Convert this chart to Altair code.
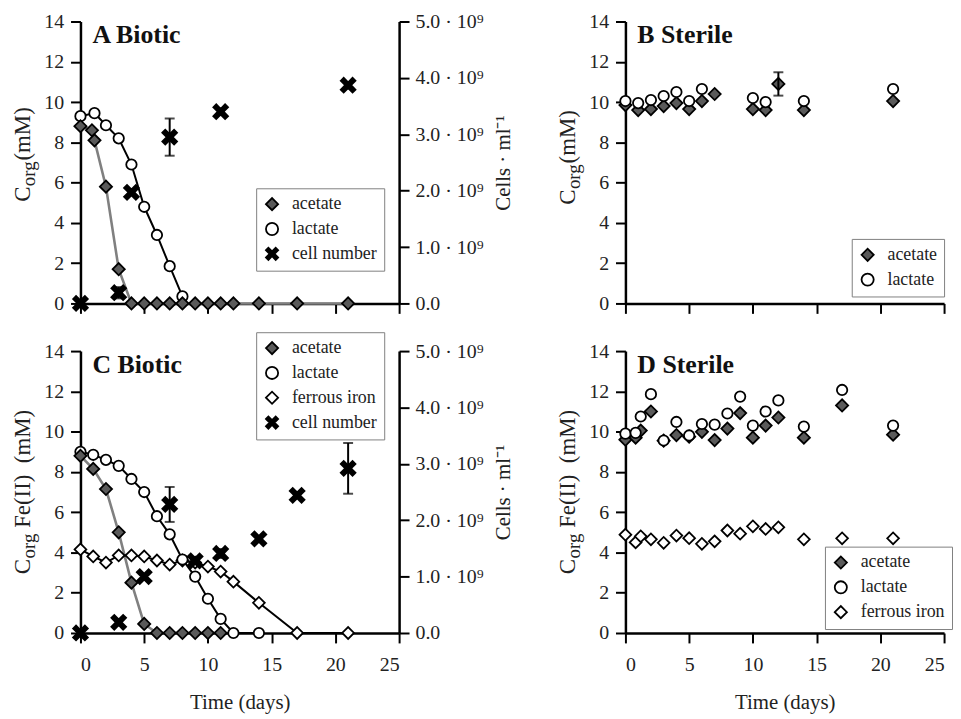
import altair as alt
import pandas as pd

FONT = "Liberation Serif"

# ---------------- data ----------------
# Panel A  (biotic, C_org)
A_ace_days = [0, 0.9, 1.1, 2, 3, 4, 5, 6, 7, 8, 9, 10, 11, 12, 14, 17, 21]
A_ace = [8.8, 8.6, 8.1, 5.8, 1.7, 0, 0, 0, 0, 0, 0, 0, 0, 0, 0, 0, 0]
A_lac_days = [0, 1.1, 2, 3, 4, 5, 6, 7, 8]
A_lac = [9.3, 9.45, 8.85, 8.2, 6.9, 4.8, 3.4, 1.85, 0.35]
A_cell_days = [0, 3, 4, 7, 11, 21]
A_cell = [0, 0.19, 1.97, 2.95, 3.4, 3.87]          # x 10^9 cells/ml
A_cell_err = [0, 0.1, 0, 0.33, 0, 0]

# Panel B  (sterile, C_org)
B_ace_days = [0, 1, 2, 3, 4, 5, 6, 7, 10, 11, 12, 14, 21]
B_ace = [9.85, 9.6, 9.65, 9.8, 9.95, 9.65, 10.05, 10.4, 9.65, 9.6, 10.9, 9.6, 10.05]
B_ace_err = [0, 0, 0, 0, 0, 0, 0, 0, 0, 0, 0.58, 0, 0]
B_lac_days = [0, 1, 2, 3, 4, 5, 6, 10, 11, 14, 21]
B_lac = [10.05, 9.95, 10.1, 10.3, 10.5, 10.05, 10.65, 10.2, 10.0, 10.05, 10.65]

# Panel C  (biotic, C_org and Fe(II))
C_ace_days = [0, 1, 2, 3, 4, 5, 6, 7, 8, 9, 10, 11]
C_ace = [8.8, 8.15, 7.15, 5.0, 2.5, 0.45, 0, 0, 0, 0, 0, 0]
C_lac_days = [0, 1, 2, 3, 4, 5, 6, 7, 8, 9, 10, 11, 12, 14]
C_lac = [9.0, 8.85, 8.6, 8.3, 7.65, 7.0, 5.8, 4.9, 3.65, 2.8, 1.7, 0.7, 0, 0]
C_fe_days = [0, 1, 2, 3, 4, 5, 6, 7, 8, 9, 10, 11, 12, 14, 17, 21]
C_fe = [4.15, 3.8, 3.5, 3.85, 3.85, 3.8, 3.6, 3.4, 3.6, 3.5, 3.3, 3.05, 2.55, 1.5, 0, 0]
C_cell_days = [0, 3, 5, 7, 9, 11, 14, 17, 21]
C_cell = [0, 0.19, 1.0, 2.28, 1.28, 1.41, 1.67, 2.44, 2.92]
C_cell_err = [0, 0, 0, 0.31, 0, 0.08, 0, 0, 0.45]

# Panel D  (sterile, C_org and Fe(II))
D_days = [0, 0.8, 1.2, 2, 3, 4, 5, 6, 7, 8, 9, 10, 11, 12, 14, 17, 21]
D_ace = [9.6, 9.7, 10.05, 11.0, 9.55, 9.83, 9.75, 9.99, 9.58, 10.15, 10.92, 9.7, 10.3, 10.7, 9.7, 11.3, 9.85]
D_lac = [9.9, 9.94, 10.75, 11.86, 9.56, 10.48, 9.81, 10.38, 10.35, 10.9, 11.74, 10.3, 11.0, 11.55, 10.25, 12.07, 10.3]
D_fe = [4.88, 4.5, 4.8, 4.65, 4.48, 4.84, 4.71, 4.43, 4.55, 5.09, 4.93, 5.3, 5.17, 5.25, 4.65, 4.7, 4.7]

X_TICKS = [0, 5, 10, 15, 20, 25]
Y_TICKS = [0, 2, 4, 6, 8, 10, 12, 14]
CELL_TICKS = [0, 1, 2, 3, 4, 5]

# ---------------- styling ----------------
XPATH = "M-1,-0.6L-0.6,-1L0,-0.4L0.6,-1L1,-0.6L0.4,0L1,0.6L0.6,1L0,0.4L-0.6,1L-1,0.6L-0.4,0Z"
SHAPES = {"acetate": "diamond", "lactate": "circle", "ferrous iron": "diamond", "cell number": XPATH}
FILLS = {"acetate": "#5a5a5a", "lactate": "white", "ferrous iron": "white", "cell number": "black"}
SIZES = {"acetate": 150, "lactate": 110, "ferrous iron": 140, "cell number": 220}

W, H = 321, 284
TXT = "#222222"

TW = {"C": .667, "o": .5, "r": .333, "g": .5, "(": .333, ")": .333, "m": .778, "M": .889,
      "F": .556, "e": .444, "I": .333, " ": .25, "\u00a0": .25}


def tw(s, fs):
    return sum(TW.get(c, 0.5) for c in s) * fs


def frame(days, vals, name):
    return pd.DataFrame({"day": days, "value": vals, "series": name})


AX = dict(labelFont=FONT, labelFontSize=20, labelColor=TXT, titleFont=FONT, titleFontSize=21,
          titleFontWeight="normal", titleColor=TXT)


def xenc(bottom):
    if bottom:
        ax = alt.Axis(values=X_TICKS, title="Time (days)", titlePadding=17, labelPadding=12, **AX)
    else:
        ax = alt.Axis(values=X_TICKS, labels=False, title=None)
    return alt.X("day:Q", scale=alt.Scale(domain=[0, 25], nice=False, zero=False), axis=ax)


def yleft(field="value"):
    return alt.Y(f"{field}:Q", scale=alt.Scale(domain=[0, 14], nice=False),
                 axis=alt.Axis(values=Y_TICKS, title=None, labelPadding=7, **AX))


def yright(field="value"):
    return alt.Y(f"{field}:Q", scale=alt.Scale(domain=[0, 5], nice=False),
                 axis=alt.Axis(orient="right", values=CELL_TICKS,
                               labelExpr="datum.value == 0 ? '0.0' : format(datum.value, '.1f') + ' · 10⁹'",
                               title="Cells · ml⁻¹", titleAngle=270, titleBaseline="top",
                               titlePadding=10, labelPadding=6, **AX))


def legend_def(lx, ly):
    return alt.Legend(orient="none", legendX=lx, legendY=ly, title=None,
                      strokeColor="#808080", fillColor="white", padding=7,
                      labelFont=FONT, labelFontSize=18, labelColor=TXT,
                      symbolSize=150, symbolStrokeWidth=1.8,
                      rowPadding=5, labelOffset=11)


def points(days, vals, name, domain, yfun, leg, bottom):
    return alt.Chart(frame(days, vals, name)).mark_point(
        filled=True, strokeWidth=1.8, opacity=1, size=SIZES[name]
    ).encode(
        x=xenc(bottom), y=yfun("value"),
        shape=alt.Shape("series:N", scale=alt.Scale(domain=domain, range=[SHAPES[s] for s in domain]), legend=leg),
        fill=alt.Fill("series:N", scale=alt.Scale(domain=domain, range=[FILLS[s] for s in domain]), legend=leg),
        stroke=alt.Stroke("series:N", scale=alt.Scale(domain=domain, range=["black"] * len(domain)), legend=leg),
    )


def line(days, vals, color, width, bottom):
    return alt.Chart(frame(days, vals, "l")).mark_line(color=color, strokeWidth=width).encode(
        x=xenc(bottom), y=yleft("value"))


def errbars(days, vals, errs, yfun, bottom):
    rows = [(d, v - e, v + e) for d, v, e in zip(days, vals, errs) if e > 0]
    df = pd.DataFrame(rows, columns=["day", "lo", "hi"])
    rule = alt.Chart(df).mark_rule(color="black", strokeWidth=2).encode(
        x=xenc(bottom), y=yfun("lo"), y2="hi:Q")
    lo = alt.Chart(df).mark_tick(orient="horizontal", color="black", size=10, thickness=2).encode(
        x=xenc(bottom), y=yfun("lo"))
    hi = alt.Chart(df).mark_tick(orient="horizontal", color="black", size=10, thickness=2).encode(
        x=xenc(bottom), y=yfun("hi"))
    return [rule, lo, hi]


def ptitle(t):
    return alt.Chart(pd.DataFrame({"t": [t]})).mark_text(
        align="left", baseline="alphabetic", font=FONT, fontSize=26, fontWeight="bold", color="#111111"
    ).encode(x=alt.value(12), y=alt.value(22), text="t:N")


def ytitle(rest, center):
    FS, FSS = 23, 19
    wC = tw("C", FS)
    wo = tw("org", FSS)
    wr = tw(rest, FS)
    gap = 6 if rest.startswith("Fe") else 1
    total = wC + wo + gap + wr
    y0 = center + total / 2
    one = pd.DataFrame({"k": [0]})
    common = dict(angle=270, align="left", baseline="middle", font=FONT, color=TXT)
    pos = dict(x=alt.value(-58), y=alt.value(y0))
    return [
        alt.Chart(one).mark_text(text="C", fontSize=FS, **common).encode(**pos),
        alt.Chart(one).mark_text(text="org", fontSize=FSS, dx=wC + 0.5, dy=6, **common).encode(**pos),
        alt.Chart(one).mark_text(text=rest, fontSize=FS, dx=wC + wo + gap, **common).encode(**pos),
    ]


# ---------------- Panel A ----------------
domA = ["acetate", "lactate", "cell number"]
legA = legend_def(177, 168)
leftA = alt.layer(
    line(A_ace_days, A_ace, "#808080", 2.6, False),
    line(A_lac_days, A_lac, "black", 2, False),
    points(A_lac_days, A_lac, "lactate", domA, yleft, legA, False),
    points(A_ace_days, A_ace, "acetate", domA, yleft, legA, False),
    ptitle("A Biotic"),
    *ytitle("(mM)", 134),
)
rightA = alt.layer(
    *errbars(A_cell_days, A_cell, A_cell_err, yright, False),
    points(A_cell_days, A_cell, "cell number", domA, yright, legA, False),
)
panelA = alt.layer(leftA, rightA).resolve_scale(y="independent").properties(width=W, height=H)

# ---------------- Panel B ----------------
domB = ["acetate", "lactate"]
legB = legend_def(228, 219)
panelB = alt.layer(
    points(B_ace_days, B_ace, "acetate", domB, yleft, legB, False),
    points(B_lac_days, B_lac, "lactate", domB, yleft, legB, False),
    *errbars(B_ace_days, B_ace, B_ace_err, yleft, False),
    ptitle("B Sterile"),
    *ytitle("(mM)", 137),
).properties(width=W, height=H)

# ---------------- Panel C ----------------
domC = ["acetate", "lactate", "ferrous iron", "cell number"]
legC = legend_def(177, -19)
leftC = alt.layer(
    line(C_ace_days, C_ace, "#808080", 2.6, True),
    line(C_lac_days, C_lac, "black", 2, True),
    line(C_fe_days, C_fe, "black", 2, True),
    points(C_fe_days, C_fe, "ferrous iron", domC, yleft, legC, True),
    points(C_lac_days, C_lac, "lactate", domC, yleft, legC, True),
    points(C_ace_days, C_ace, "acetate", domC, yleft, legC, True),
    ptitle("C Biotic"),
    *ytitle("Fe(II)\u00a0\u00a0(mM)", 142),
)
rightC = alt.layer(
    *errbars(C_cell_days, C_cell, C_cell_err, yright, True),
    points(C_cell_days, C_cell, "cell number", domC, yright, legC, True),
)
panelC = alt.layer(leftC, rightC).resolve_scale(y="independent").properties(width=W, height=H)

# ---------------- Panel D ----------------
domD = ["acetate", "lactate", "ferrous iron"]
legD = legend_def(201, 197)
panelD = alt.layer(
    points(D_days, D_fe, "ferrous iron", domD, yleft, legD, True),
    points(D_days, D_ace, "acetate", domD, yleft, legD, True),
    points(D_days, D_lac, "lactate", domD, yleft, legD, True),
    ptitle("D Sterile"),
    *ytitle("Fe(II)\u00a0\u00a0(mM)", 142),
).properties(width=W, height=H)

chart = (
    alt.concat(panelA, panelB, panelC, panelD, columns=2,
               spacing={"row": 48, "column": 228}, bounds="flush")
    .resolve_scale(shape="independent", fill="independent", stroke="independent")
    .properties(padding={"left": 3, "top": 0, "right": 0, "bottom": 0})
    .configure(font=FONT)
    .configure_axis(domainColor="black", domainWidth=2.5, tickColor="black", tickWidth=2,
                    tickSize=10, labelFont=FONT, labelFontSize=20, labelColor=TXT,
                    labelPadding=5, titleFont=FONT, titleFontSize=21, titleFontWeight="normal",
                    titleColor=TXT, grid=False)
    .configure_legend(labelFont=FONT, labelFontSize=18, labelColor=TXT)
    .configure_view(stroke="transparent")
)

chart.save("out.html", embed_options={"renderer": "svg", "actions": False})
